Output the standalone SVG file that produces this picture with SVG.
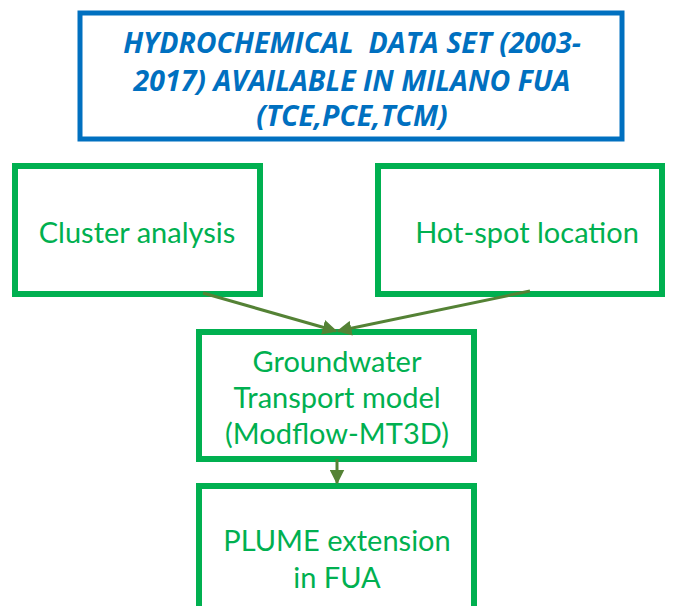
<svg xmlns="http://www.w3.org/2000/svg" width="676" height="606" viewBox="0 0 676 606">
<style>
.g{fill:#fff;stroke:#00B050;stroke-width:6}
.b{fill:#fff;stroke:#0070C0;stroke-width:5}
.gt{font-family:Lato,"Open Sans",sans-serif;font-size:29px;fill:#00B050;text-anchor:middle}
.bt{font-family:"Open Sans",Lato,sans-serif;font-size:28.5px;font-weight:bold;font-style:italic;fill:#0070C0;text-anchor:middle}
.c{stroke:#548235;stroke-width:3;fill:none}
</style>
<defs>
<marker id="ah" viewBox="0 0 10 10" refX="9" refY="5" markerWidth="5" markerHeight="5" orient="auto" markerUnits="strokeWidth">
<path d="M0,0 L10,5 L0,10 z" fill="#548235"/>
</marker>
</defs>
<g id="dataset">
<rect class="b" x="80" y="13" width="542" height="126"/>
<text class="bt" x="352" y="53" xml:space="preserve">HYDROCHEMICAL  DATA SET (2003-</text>
<text class="bt" x="352" y="91">2017) AVAILABLE IN MILANO FUA</text>
<text class="bt" x="352" y="126">(TCE,PCE,TCM)</text>
</g>
<g id="cluster">
<rect class="g" x="15" y="166" width="245" height="128"/>
<text class="gt" x="137" y="243">Cluster analysis</text>
</g>
<g id="hotspot">
<rect class="g" x="378" y="166" width="284" height="128"/>
<text class="gt" x="527" y="243">Hot-spot location</text>
</g>
<g id="groundwater">
<rect class="g" x="199" y="332" width="275" height="127"/>
<text class="gt" x="337" y="372">Groundwater</text>
<text class="gt" x="337" y="408">Transport model</text>
<text class="gt" x="337" y="444">(Modflow-MT3D)</text>
</g>
<g id="plume">
<rect class="g" x="199" y="486" width="275" height="130"/>
<text class="gt" x="337" y="551">PLUME extension</text>
<text class="gt" x="337" y="588">in FUA</text>
</g>
<g id="connectors">
<line class="c" x1="203" y1="293" x2="336" y2="331" marker-end="url(#ah)"/>
<line class="c" x1="530" y1="291" x2="338" y2="331" marker-end="url(#ah)"/>
<line class="c" x1="337" y1="459" x2="337" y2="483" marker-end="url(#ah)"/>
</g>
</svg>
